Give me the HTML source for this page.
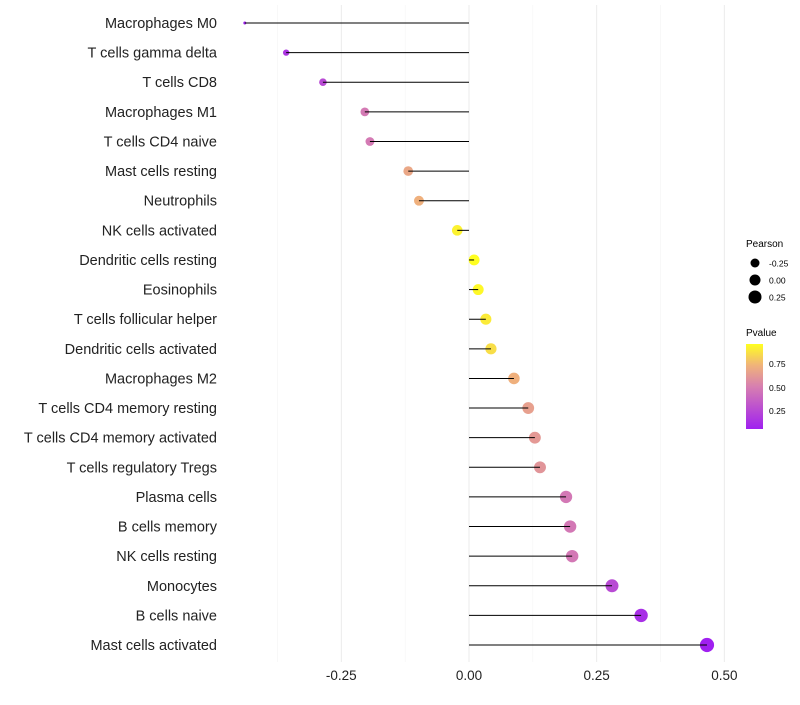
<!DOCTYPE html>
<html><head><meta charset="utf-8"><style>
body{margin:0;background:#fff;font-family:"Liberation Sans",sans-serif}
</style></head><body>
<svg id="c" width="800" height="700" xmlns="http://www.w3.org/2000/svg">
<defs><linearGradient id="pg" x1="0" y1="1" x2="0" y2="0">
<stop offset="0" stop-color="#a020f0"/><stop offset="0.5" stop-color="#d77fb0"/><stop offset="0.75" stop-color="#f0b37a"/><stop offset="1" stop-color="#ffff20"/></linearGradient></defs>
<g id="grid"></g><g id="marks"></g><g id="labels"></g>
<g font-size="10">
<text x="746" y="247" fill="#000">Pearson</text>
<circle cx="755" cy="263" r="4.5" fill="#000"/><text x="769" y="266.5" font-size="8.5">-0.25</text>
<circle cx="755" cy="280" r="5.5" fill="#000"/><text x="769" y="283.5" font-size="8.5">0.00</text>
<circle cx="755" cy="297" r="6.5" fill="#000"/><text x="769" y="300.5" font-size="8.5">0.25</text>
<text x="746" y="336">Pvalue</text>
<rect x="746" y="344" width="17" height="85" fill="url(#pg)"/>
<text x="769" y="367" font-size="8.5">0.75</text>
<text x="769" y="391" font-size="8.5">0.50</text>
<text x="769" y="414" font-size="8.5">0.25</text>
</g>
</svg>
<script>
const categories=["Macrophages M0","T cells gamma delta","T cells CD8","Macrophages M1","T cells CD4 naive","Mast cells resting","Neutrophils","NK cells activated","Dendritic cells resting","Eosinophils","T cells follicular helper","Dendritic cells activated","Macrophages M2","T cells CD4 memory resting","T cells CD4 memory activated","T cells regulatory  Tregs ","Plasma cells","B cells memory","NK cells resting","Monocytes","B cells naive","Mast cells activated"];
const pearson=[-0.439,-0.358,-0.286,-0.204,-0.194,-0.119,-0.098,-0.023,0.010,0.018,0.033,0.043,0.088,0.116,0.129,0.139,0.190,0.198,0.202,0.280,0.337,0.466];
const pvalue=[0.05,0.15,0.25,0.48,0.48,0.68,0.72,0.92,0.96,0.94,0.9,0.86,0.72,0.65,0.62,0.6,0.47,0.47,0.47,0.25,0.12,0.04];
const xTicks=[-0.25,0,0.25,0.5];
const xTickLabels=["-0.25","0.00","0.25","0.50"];
const x=v=>469+v*510.7;
const y=i=>23+i*29.62;
const NS="http://www.w3.org/2000/svg";
function mk(t,a,p){const e=document.createElementNS(NS,t);for(const k in a)e.setAttribute(k,a[k]);p.appendChild(e);return e;}
function lerp(a,b,t){return a.map((v,i)=>Math.round(v+(b[i]-v)*t));}
const stops=[[0,[160,32,240]],[0.5,[215,127,176]],[0.75,[240,179,122]],[1,[255,255,32]]];
function col(p){let t=(p-0.05)/(0.96-0.05);t=Math.max(0,Math.min(1,t));for(let i=1;i<stops.length;i++){if(t<=stops[i][0]){const u=(t-stops[i-1][0])/(stops[i][0]-stops[i-1][0]);const c=lerp(stops[i-1][1],stops[i][1],u);return`rgb(${c})`;}}return"rgb(255,255,32)";}
const mn=Math.min(...pearson),mx=Math.max(...pearson);
const rad=v=>1.5+5.6*Math.sqrt((v-mn)/(mx-mn));
const grid=document.getElementById('grid'),marks=document.getElementById('marks'),labels=document.getElementById('labels');
[-0.375,-0.125,0.125,0.375].forEach(v=>{const l=mk('line',{x1:x(v),x2:x(v),y1:5,y2:662,stroke:'#f4f4f4','stroke-width':0.6},grid);

});
xTicks.forEach((v,i)=>{const l=mk('line',{x1:x(v),x2:x(v),y1:5,y2:662,stroke:'#ebebeb','stroke-width':1},grid);


const t=mk('text',{x:x(v),y:680,'text-anchor':'middle','font-size':13.5,fill:'#222'},labels);t.textContent=xTickLabels[i];

});
categories.forEach((c,i)=>{
const d=mk('circle',{cx:x(pearson[i]),cy:y(i),r:rad(pearson[i]),fill:col(pvalue[i])},marks);


const l=mk('line',{x1:x(0),x2:x(pearson[i]),y1:y(i),y2:y(i),stroke:'#000','stroke-width':1},marks);


const t=mk('text',{x:217,y:y(i)+5,'text-anchor':'end','font-size':14.5,fill:'#222'},labels);t.textContent=c;


});
</script>
</body></html>
